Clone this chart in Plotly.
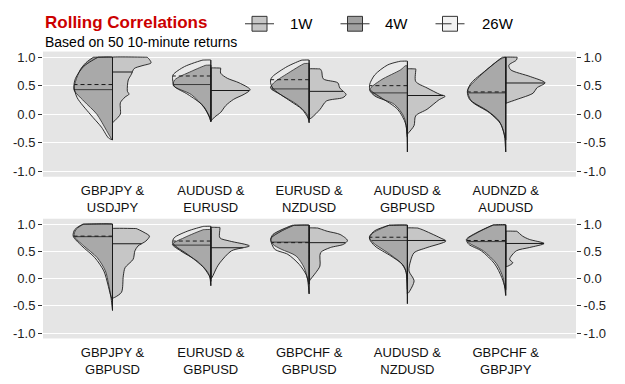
import numpy as np
import plotly.graph_objects as go

# ---------------- data ----------------
PAIRS_TOP = ["GBPJPY &<br>USDJPY", "AUDUSD &<br>EURUSD", "EURUSD &<br>NZDUSD",
             "AUDUSD &<br>GBPUSD", "AUDNZD &<br>AUDUSD"]
PAIRS_BOTTOM = ["GBPJPY &<br>GBPUSD", "EURUSD &<br>GBPUSD", "GBPCHF &<br>GBPUSD",
                "AUDUSD &<br>NZDUSD", "GBPCHF &<br>GBPJPY"]
SERIES = ["1W", "4W", "26W"]
Y_TICKS = [-1.0, -0.5, 0.0, 0.5, 1.0]
Y_TICK_TEXT = ["-1.0", "-0.5", "0.0", "0.5", "1.0"]

# density profiles: (correlation, relative density), top to bottom
TOP_1W = [
    [(1.0, .88), (.95, .95), (.9, .98), (.85, .75), (.8, .55), (.7, .48), (.6, .40), (.5, .38),
     (.4, .38), (.35, .42), (.3, .32), (.2, .2), (.1, .2), (0.0, .2), (-.1, .08), (-.15, 0)],
    [(.81, .25), (.72, .25), (.63, .42), (.55, .72), (.43, 1.0), (.35, .85), (.26, .58),
     (.15, .38), (.03, .25), (-.05, .1), (-.12, 0)],
    [(.795, .28), (.75, .32), (.62, .36), (.55, .73), (.46, .78), (.345, .94), (.29, .86),
     (.23, .44), (.085, .28), (-.06, .07), (-.09, 0)],
    [(.795, .21), (.575, .21), (.46, .5), (.345, .83), (.315, .96), (.25, .8), (.085, .5),
     (-.03, .21), (-.2, .17), (-.32, .04), (-.35, 0)],
    [(1.0, .29), (.95, .27), (.86, .08), (.78, .125), (.66, .625), (.55, 1.0), (.46, .79),
     (.37, .7), (.26, .29), (.2, .04), (.19, 0)],
]
TOP_4W = [
    [(1.0, .48), (.9, .68), (.78, .82), (.575, .94), (.43, .98), (.23, .73), (0.0, .4),
     (-.29, .15), (-.43, .03), (-.45, 0)],
    [(.86, .12), (.75, .5), (.6, .92), (.5, .95), (.345, .5), (.115, .17), (-.05, .04), (-.13, 0)],
    [(.89, .12), (.7, .58), (.55, .9), (.46, .98), (.345, .73), (.17, .31), (0.0, .06), (-.15, 0)],
    [(.85, .05), (.78, .17), (.6, .67), (.43, .96), (.32, .83), (.17, .33), (-.06, .08), (-.4, 0)],
    [(1.0, .02), (.95, .17), (.69, .625), (.43, .96), (.23, .875), (.027, .42), (-.175, .125),
     (-.4, .02), (-.45, 0)],
]
TOP_26W = [
    [(1.0, .36), (.84, .73), (.63, .94), (.49, .98), (.29, .9), (0.0, .57), (-.23, .28),
     (-.42, .1), (-.45, 0)],
    [(.95, .2), (.835, .67), (.69, .96), (.6, .97), (.49, .93), (.345, .58), (.15, .2),
     (-.05, .03), (-.13, 0)],
    [(.95, .18), (.835, .56), (.66, .93), (.6, .98), (.52, .97), (.43, .89), (.23, .48),
     (.085, .18), (-.09, 0)],
    [(.93, .17), (.865, .5), (.69, .83), (.52, .96), (.43, .95), (.29, .67), (.085, .25),
     (-.18, .04), (-.665, 0)],
    [(1.0, .08), (.75, .54), (.55, .875), (.4, .975), (.26, .92), (.056, .46), (-.12, .17),
     (-.35, .04), (-.665, 0)],
]
BOT_1W = [
    [(.92, .6), (.85, .8), (.78, .94), (.69, .85), (.6, .65), (.51, .57), (.355, .525), (.2, .32),
     (.05, .275), (-.25, .23), (-.34, .07), (-.36, 0)],
    [(.94, .23), (.75, .23), (.69, .48), (.6, .98), (.51, .525), (.29, .23), (.2, .15),
     (.02, .03), (0.0, 0)],
    [(.93, .21), (.87, .46), (.81, .79), (.7, .975), (.63, .875), (.57, .54), (.475, .29),
     (.23, .275), (.11, .17), (-.01, .04), (-.05, 0)],
    [(.93, .25), (.9, .375), (.75, .83), (.69, .98), (.57, .5), (.475, .17), (.325, .08),
     (.14, .04), (-.04, .17), (-.25, .04), (-.28, 0)],
    [(.87, .28), (.78, .43), (.72, .6), (.645, .975), (.57, .6), (.51, .27), (.355, .1),
     (.29, .18), (.23, .06), (.22, 0)],
]
BOT_4W = [
    [(1.0, .73), (.9, .93), (.78, .975), (.6, .73), (.385, .39), (.14, .18), (-.1, .1),
     (-.34, .04), (-.585, 0)],
    [(.9, .18), (.75, .68), (.63, .975), (.51, .77), (.325, .35), (.14, .1), (.05, .03), (-.13, 0)],
    [(.98, .42), (.81, .92), (.72, .975), (.63, .92), (.54, .71), (.415, .33), (.2, .125),
     (-.01, .04), (-.28, 0)],
    [(.98, .46), (.84, .875), (.75, .96), (.66, .875), (.475, .5), (.29, .17), (.14, .04), (-.46, 0)],
    [(.98, .32), (.84, .73), (.72, .98), (.66, .94), (.51, .57), (.27, .23), (.02, .07), (-.31, 0)],
]
BOT_26W = [
    [(1.0, .75), (.9, .96), (.78, 1.0), (.6, .78), (.385, .45), (.14, .22), (-.1, .12),
     (-.3, .05), (-.4, 0)],
    [(.96, .18), (.87, .6), (.75, .93), (.66, .975), (.57, .85), (.45, .6), (.2, .18),
     (.02, .02), (-.05, 0)],
    [(.98, .375), (.87, .71), (.75, .96), (.7, .975), (.54, .875), (.445, .54), (.26, .25),
     (.08, .08), (-.1, 0)],
    [(.98, .46), (.88, .83), (.78, .96), (.72, .96), (.6, .83), (.415, .42), (.26, .125),
     (.11, .03), (-.2, 0)],
    [(.99, .3), (.84, .75), (.72, 1.0), (.63, .94), (.51, .62), (.27, .28), (.02, .1), (-.2, 0)],
]
TOP_MED_1W = [0.74, 0.415, 0.40, 0.327, 0.547]
TOP_MED_4W = [0.43, 0.52, 0.443, 0.373, 0.373]
TOP_MED_26W = [0.52, 0.67, 0.605, 0.50, 0.39]
BOT_MED_1W = [0.64, 0.567, 0.66, 0.70, 0.645]
BOT_MED_4W = [0.77, 0.615, 0.67, 0.70, 0.68]
BOT_MED_26W = [0.78, 0.69, 0.66, 0.76, 0.70]

# ---------------- style ----------------
HALF = 0.4
EDGE = "#1a1a1a"
STYLE = {
    "1W": dict(side=1, fill="#c6c6c6", dash="solid"),
    "4W": dict(side=-1, fill="#9a9a9a", dash="solid"),
    "26W": dict(side=-1, fill="rgba(255,255,255,0.15)", dash="4px,3px"),
}

fig = go.Figure()


def add_half(xa, ya, c, prof, med, st):
    s = st["side"]
    v = [p[0] for p in prof]
    w = [p[1] * HALF for p in prof]
    vmax, vmin = v[0], v[-1]
    eps = 0.004
    xs = [c, c, c, c]
    ys = [vmin, vmin + eps, vmax - eps, vmax]
    if w[0] > 0.02:
        xs += [c + s * (w[0] - 0.008)]
        ys += [vmax]
    xs += [c + s * wi for wi in w]
    ys += v
    fig.add_trace(go.Scatter(x=xs, y=ys, xaxis=xa, yaxis=ya, mode="lines", fill="toself",
                             fillcolor=st["fill"], line=dict(color=EDGE, width=0.9, shape="spline",
                                                             smoothing=0.8),
                             hoverinfo="skip", showlegend=False))
    # centre edge
    fig.add_trace(go.Scatter(x=[c, c], y=[vmin, vmax], xaxis=xa, yaxis=ya, mode="lines",
                             line=dict(color=EDGE, width=0.9), hoverinfo="skip", showlegend=False))
    # median
    wm = float(np.interp(med, v[::-1], w[::-1]))
    fig.add_trace(go.Scatter(x=[c, c + s * wm], y=[med, med], xaxis=xa, yaxis=ya, mode="lines",
                             line=dict(color=EDGE, width=1.0, dash=st["dash"]),
                             hoverinfo="skip", showlegend=False))


def draw_panel(xa, ya, p1, p4, p26, m1, m4, m26):
    for i in range(5):
        add_half(xa, ya, i, p1[i], m1[i], STYLE["1W"])
        add_half(xa, ya, i, p4[i], m4[i], STYLE["4W"])
        add_half(xa, ya, i, p26[i], m26[i], STYLE["26W"])


draw_panel("x", "y", TOP_1W, TOP_4W, TOP_26W, TOP_MED_1W, TOP_MED_4W, TOP_MED_26W)
draw_panel("x2", "y3", BOT_1W, BOT_4W, BOT_26W, BOT_MED_1W, BOT_MED_4W, BOT_MED_26W)
# anchor traces for the right-hand axes
fig.add_trace(go.Scatter(x=[None], y=[None], xaxis="x", yaxis="y2", showlegend=False))
fig.add_trace(go.Scatter(x=[None], y=[None], xaxis="x2", yaxis="y4", showlegend=False))

W, H = 625, 384
XDOM = [43 / W, 576 / W]
XR = [-0.707, 4.715]
TOPDOM = [1 - 176.55 / H, 1 - 50.05 / H]
BOTDOM = [1 - 340 / H, 1 - 219 / H]
FONT = "Liberation Sans, Arial, sans-serif"

def xaxis(labels, anchor):
    return dict(domain=XDOM, range=XR, tickvals=list(range(5)), ticktext=labels,
                showgrid=False, zeroline=False, showline=False, ticks="outside", ticklen=2,
                tickcolor="rgba(0,0,0,0)", tickfont=dict(size=13, color="#111111", family=FONT),
                anchor=anchor, fixedrange=True)

def yaxis(dom, anchor, side="left", overlay=None):
    d = dict(range=[-1.1, 1.1], tickvals=Y_TICKS, ticktext=Y_TICK_TEXT, zeroline=False,
             showline=False, ticks="outside", ticklen=4, tickcolor="#333333", tickwidth=1,
             tickfont=dict(size=13, color="#222222", family=FONT), anchor=anchor, side=side,
             fixedrange=True)
    if overlay:
        d.update(overlaying=overlay, showgrid=False)
    else:
        d.update(domain=dom, showgrid=True, gridcolor="white", gridwidth=1.2)
    return d

fig.update_layout(
    width=W, height=H, margin=dict(l=0, r=0, t=0, b=0),
    paper_bgcolor="white", plot_bgcolor="#e5e5e5",
    font=dict(family=FONT),
    xaxis=xaxis(PAIRS_TOP, "y"),
    yaxis=yaxis(TOPDOM, "x"),
    yaxis2=yaxis(TOPDOM, "x", side="right", overlay="y"),
    xaxis2=xaxis(PAIRS_BOTTOM, "y3"),
    yaxis3=yaxis(BOTDOM, "x2"),
    yaxis4=yaxis(BOTDOM, "x2", side="right", overlay="y3"),
    showlegend=False,
)

def px(x):
    return x / W

def py(y):
    return 1 - y / H

# title and subtitle
fig.add_annotation(text="<b>Rolling Correlations</b>", x=px(43), y=py(20.3), xref="paper",
                   yref="paper", xanchor="left", yanchor="middle", showarrow=False,
                   font=dict(size=17, color="#cc0000", family=FONT))
fig.add_annotation(text="Based on 50 10-minute returns", x=px(43), y=py(40.5), xref="paper",
                   yref="paper", xanchor="left", yanchor="middle", showarrow=False,
                   font=dict(size=14, color="#000000", family=FONT))

# legend (drawn manually to mimic boxed keys)
LEG_KEYS = [(259.5, 288), (355, 383), (450, 480)]
LEG_FILL = {"1W": "#c6c6c6", "4W": "#a0a0a0", "26W": "#f2f2f2"}
for name, (cx, lx) in zip(SERIES, LEG_KEYS):
    dash = "solid" if name != "26W" else "dash"
    fig.add_shape(type="line", xref="paper", yref="paper", x0=px(cx - 14.5), x1=px(cx + 14.5),
                  y0=py(22), y1=py(22), line=dict(color="#333333", width=1))
    fig.add_shape(type="rect", xref="paper", yref="paper", x0=px(cx - 7.5), x1=px(cx + 7.5),
                  y0=py(29.5), y1=py(14.5), fillcolor=LEG_FILL[name],
                  line=dict(color="#333333", width=1))
    fig.add_shape(type="line", xref="paper", yref="paper", x0=px(cx - 7.5), x1=px(cx + 7.5),
                  y0=py(22), y1=py(22), line=dict(color="#333333", width=1, dash=dash))
    fig.add_annotation(text=name, x=px(lx), y=py(22), xref="paper", yref="paper",
                       xanchor="left", yanchor="middle", showarrow=False,
                       font=dict(size=15, color="#000000", family=FONT))

fig.write_html("out.html")
